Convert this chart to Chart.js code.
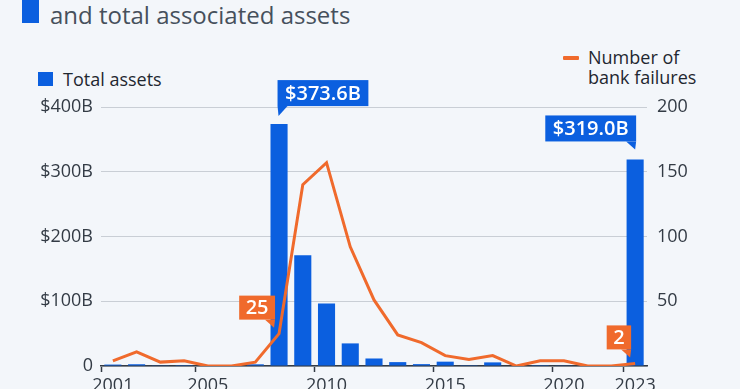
<!DOCTYPE html>
<html>
<head>
<meta charset="utf-8">
<script src="https://cdn.jsdelivr.net/npm/chart.js@4"></script>
<style>
    body { margin: 0; background: #f3f6fa; font-family: "Open Sans", sans-serif; }
    #wrap { position: relative; width: 740px; height: 389px; overflow: hidden; }
    #chart { position: absolute; left: 0; top: 0; }
    .title-mark { position: absolute; left: 22px; top: -10px; width: 17px; height: 33px; background: #0b5fdf; }
    .title { position: absolute; left: 50px; top: 3px; font-size: 24px; line-height: 24px; color: #46505c; white-space: nowrap; }
    .leg-box { position: absolute; left: 38px; top: 72px; width: 15px; height: 14px; background: #0b5fdf; }
    .leg-text { position: absolute; font-size: 18px; color: #1f2730; line-height: 20px; }
    .leg-line { position: absolute; left: 563px; top: 56px; width: 16px; height: 4px; background: #f06a2c; border-radius: 1px; }
</style>
</head>
<body>
<div id="wrap">
    <div class="title-mark"></div>
    <div class="title">and total associated assets</div>
    <div class="leg-box"></div>
    <div class="leg-text" style="left:63px; top:69px;">Total assets</div>
    <div class="leg-line"></div>
    <div class="leg-text" style="left:588px; top:47px;">Number of<br>bank failures</div>
    <canvas id="chart" width="740" height="389"></canvas>
</div>
<script>
// years on the x axis
const years = ['2001','2002','2003','2004','2005','2006','2007','2008','2009','2010','2011','2012',
    '2013','2014','2015','2016','2017','2018','2019','2020','2021','2022','2023'];
// only these years get a label and a tick mark
const shownYears = ['2001','2005','2010','2015','2020','2023'];

// total assets of failed banks, billion USD
const totalAssets = [2.2, 2.7, 1.1, 0.2, 0, 0, 2.6, 373.6, 170.9, 96.5, 34.9, 11.6,
    6.0, 2.9, 6.7, 0.3, 5.6, 0, 0.2, 0.5, 0.3, 0, 319.0];
// number of bank failures
const bankFailures = [4, 11, 3, 4, 0, 0, 3, 25, 140, 157, 92, 51,
    24, 18, 8, 5, 8, 0, 4, 4, 0, 0, 2];

// which values get a callout box
const assetCallouts = ['2008', '2023'];
const failureCallouts = ['2008', '2023'];

const BLUE = '#0b5fdf';
const ORANGE = '#f06a2c';

// draws the little speech-bubble labels
function drawCallout(ctx, text, boxX, boxY, w, h, tail, color) {
    ctx.fillStyle = color;
    ctx.fillRect(boxX, boxY, w, h);
    ctx.beginPath();
    if (tail === 'left') {
        ctx.moveTo(boxX, boxY + h);
        ctx.lineTo(boxX + 10, boxY + h);
        ctx.lineTo(boxX + 1, boxY + h + 10);
    } else {
        ctx.moveTo(boxX + w, boxY + h);
        ctx.lineTo(boxX + w - 10, boxY + h);
        ctx.lineTo(boxX + w - 1, boxY + h + 8);
    }
    ctx.closePath();
    ctx.fill();
    ctx.fillStyle = '#fff';
    ctx.textAlign = 'center';
    ctx.textBaseline = 'middle';
    ctx.fillText(text, boxX + w / 2, boxY + h / 2 + 1);
}

const calloutPlugin = {
    id: 'callouts',
    afterDraw(chart) {
        const ctx = chart.ctx;
        ctx.save();
        ctx.font = '600 20px "Open Sans"';
        let bars = chart.getDatasetMeta(1).data;
        assetCallouts.forEach(function (y) {
            let i = years.indexOf(y);
            let el = bars[i];
            let text = '$' + totalAssets[i].toFixed(1) + 'B';
            let w = ctx.measureText(text).width + 15;
            let h = 26;
            if (i === years.length - 1) {
                drawCallout(ctx, text, el.x + 1 - w, el.y - 18 - h, w, h, 'right', BLUE);
            } else {
                drawCallout(ctx, text, el.x - 1.5, el.y - 18 - h, w, h, 'left', BLUE);
            }
        });
        let pts = chart.getDatasetMeta(0).data;
        failureCallouts.forEach(function (y) {
            let i = years.indexOf(y);
            let el = pts[i];
            let text = String(bankFailures[i]);
            let w = ctx.measureText(text).width + 13;
            let h = 24;
            drawCallout(ctx, text, el.x - 4 - w, el.y - 14 - h, w, h, 'right', ORANGE);
        });
        ctx.restore();
    }
};

Chart.defaults.font.family = '"Open Sans", sans-serif';
Chart.defaults.font.size = 18;
Chart.defaults.color = '#333b45';

new Chart(document.getElementById('chart'), {
    data: {
        labels: years,
        datasets: [
            {
                type: 'line',
                label: 'Number of bank failures',
                data: bankFailures,
                yAxisID: 'y1',
                borderColor: ORANGE,
                borderWidth: 3,
                pointRadius: 0,
                tension: 0,
                order: 0
            },
            {
                type: 'bar',
                label: 'Total assets',
                data: totalAssets,
                yAxisID: 'y',
                backgroundColor: BLUE,
                categoryPercentage: 1,
                barPercentage: 0.72,
                order: 1
            }
        ]
    },
    options: {
        responsive: false,
        animation: false,
        layout: { padding: { top: 107 } },
        plugins: {
            legend: { display: false },
            tooltip: { enabled: false }
        },
        scales: {
            x: {
                offset: true,
                grid: {
                    drawOnChartArea: false,
                    tickLength: 6,
                    tickWidth: 1.5,
                    tickColor: function (c) {
                        return shownYears.includes(years[c.index]) ? '#333b45' : 'transparent';
                    }
                },
                border: { color: '#333b45', width: 1.5 },
                ticks: {
                    autoSkip: false,
                    maxRotation: 0,
                    padding: 3,
                    callback: function (v, i) {
                        return shownYears.includes(years[i]) ? years[i] : '';
                    }
                },
                afterFit: function (s) { s.height = 23; }
            },
            y: {
                position: 'left',
                min: 0,
                max: 400,
                ticks: {
                    stepSize: 100,
                    padding: 8,
                    callback: function (v) { return v === 0 ? '0' : '$' + v + 'B'; }
                },
                grid: { color: '#c9ced5', lineWidth: 1, drawTicks: false },
                border: { display: false },
                afterFit: function (s) { s.width = 101; }
            },
            y1: {
                position: 'right',
                min: 0,
                max: 200,
                ticks: {
                    stepSize: 50,
                    padding: 10,
                    callback: function (v) { return v === 0 ? '' : v; }
                },
                grid: { drawOnChartArea: false, drawTicks: false },
                border: { display: false },
                afterFit: function (s) { s.width = 93; }
            }
        }
    },
    plugins: [calloutPlugin]
});
</script>
</body>
</html>
